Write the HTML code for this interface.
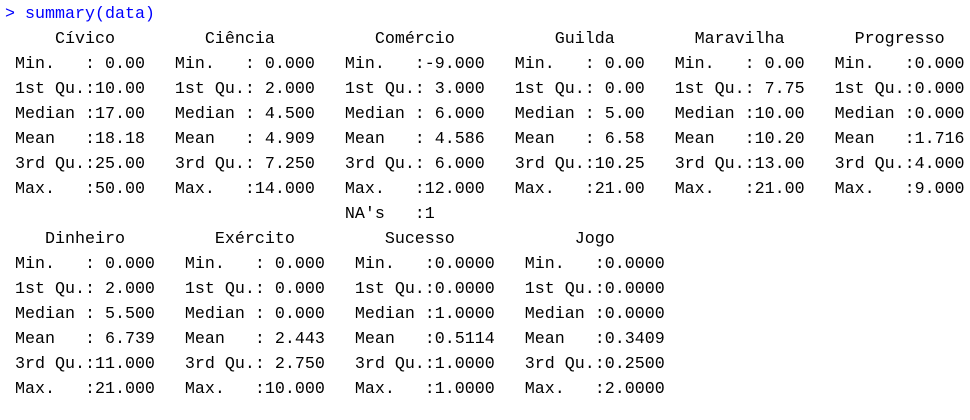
<!DOCTYPE html>
<html>
<head>
<meta charset="utf-8">
<style>
  html, body { margin: 0; padding: 0; background: #ffffff; }
  body { width: 970px; height: 420px; overflow: hidden; }
  pre {
    margin: 0;
    padding: 2px 0 0 5px;
    font-family: "Liberation Mono", "DejaVu Sans Mono", monospace;
    font-size: 16.67px;
    line-height: 25px;
    color: #000000;
    white-space: pre;
  }
  .cmd { color: #0000ff; }
</style>
</head>
<body>
<pre><span class="cmd">&gt; summary(data)</span>
<span>     Cívico         Ciência          Comércio          Guilda        Maravilha       Progresso
 Min.   : 0.00   Min.   : 0.000   Min.   :-9.000   Min.   : 0.00   Min.   : 0.00   Min.   :0.000
 1st Qu.:10.00   1st Qu.: 2.000   1st Qu.: 3.000   1st Qu.: 0.00   1st Qu.: 7.75   1st Qu.:0.000
 Median :17.00   Median : 4.500   Median : 6.000   Median : 5.00   Median :10.00   Median :0.000
 Mean   :18.18   Mean   : 4.909   Mean   : 4.586   Mean   : 6.58   Mean   :10.20   Mean   :1.716
 3rd Qu.:25.00   3rd Qu.: 7.250   3rd Qu.: 6.000   3rd Qu.:10.25   3rd Qu.:13.00   3rd Qu.:4.000
 Max.   :50.00   Max.   :14.000   Max.   :12.000   Max.   :21.00   Max.   :21.00   Max.   :9.000
                                  NA's   :1</span>
<span>    Dinheiro         Exército         Sucesso            Jogo
 Min.   : 0.000   Min.   : 0.000   Min.   :0.0000   Min.   :0.0000
 1st Qu.: 2.000   1st Qu.: 0.000   1st Qu.:0.0000   1st Qu.:0.0000
 Median : 5.500   Median : 0.000   Median :1.0000   Median :0.0000
 Mean   : 6.739   Mean   : 2.443   Mean   :0.5114   Mean   :0.3409
 3rd Qu.:11.000   3rd Qu.: 2.750   3rd Qu.:1.0000   3rd Qu.:0.2500
 Max.   :21.000   Max.   :10.000   Max.   :1.0000   Max.   :2.0000</span></pre>
</body>
</html>
